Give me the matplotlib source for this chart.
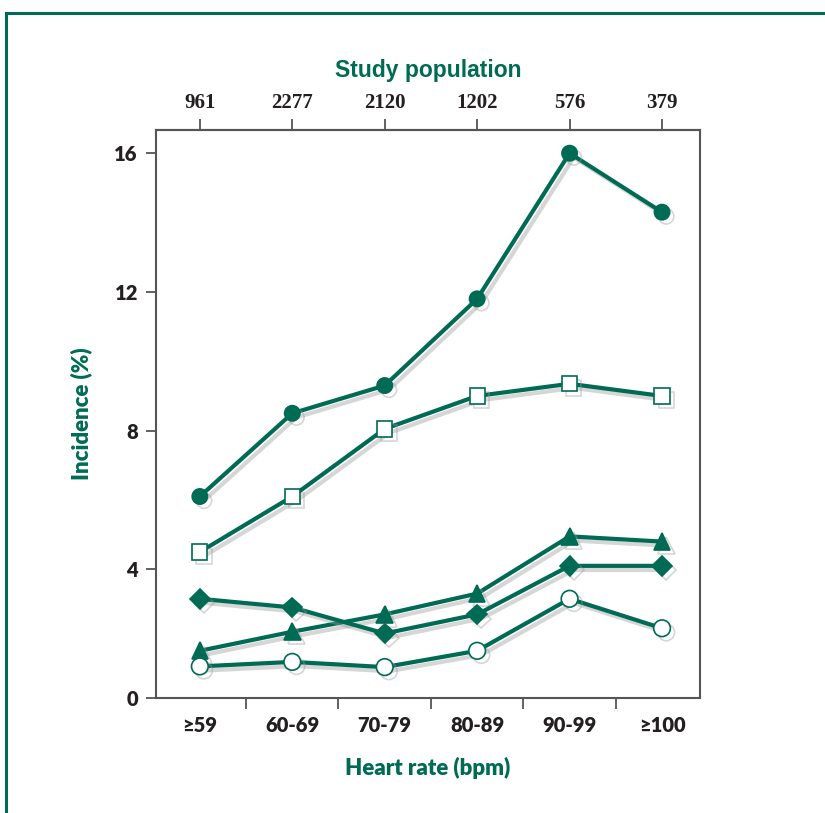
import numpy as np
import matplotlib.pyplot as plt
import matplotlib.patheffects as pe
from matplotlib.lines import Line2D

# heart-rate categories and study population per category
categories = ["\u226559", "60-69", "70-79", "80-89", "90-99", "\u2265100"]
population = ["961", "2277", "2120", "1202", "576", "379"]

# incidence (%)
filled_circle = [6.1, 8.5, 9.3, 11.8, 16.0, 14.3]
open_square = [4.5, 6.1, 8.05, 9.0, 9.35, 9.0]
filled_triangle = [1.65, 2.2, 2.7, 3.3, 4.95, 4.8]
filled_diamond = [3.15, 2.9, 2.15, 2.7, 4.1, 4.1]
open_circle = [1.2, 1.33, 1.18, 1.65, 3.15, 2.3]

green = "#006b54"
dark = "#231f20"

fig = plt.figure(figsize=(8.25, 8.13), dpi=100)
ax = fig.add_axes([0.189, 0.1415, 0.6594, 0.6986])

x = np.arange(len(categories))
shadow = [pe.SimpleLineShadow(offset=(3, -3), shadow_color="#999999", alpha=0.4), pe.Normal()]

series = [
    (filled_circle, "o", green, 11),
    (open_square, "s", "white", 11),
    (filled_triangle, "^", green, 12),
    (filled_diamond, "D", green, 10),
    (open_circle, "o", "white", 12),
]
for vals, mk, face, ms in series:
    ax.plot(x, vals, color=green, lw=3, marker=mk, markersize=ms,
            markerfacecolor=face, markeredgecolor=green, markeredgewidth=1.2,
            path_effects=shadow, zorder=3)

ymin = 0.29
ax.set_ylim(ymin, 16.67)
ax.set_xlim(-0.475, 5.41)

# y axis
ax.set_yticks([ymin, 4, 8, 12, 16])
ax.set_yticklabels(["0", "4", "8", "12", "16"])
ax.tick_params(axis="y", direction="out", length=7, width=1.3, color="#555555",
               labelsize=14.5, labelcolor=dark, pad=6)

# bottom axis: labels at centres, tick marks at boundaries
ax.set_xticks(x)
ax.set_xticklabels(categories)
ax.set_xticks(x[:-1] + 0.5, minor=True)
ax.tick_params(axis="x", which="major", length=0, labelsize=14.5, labelcolor=dark, pad=13)
ax.tick_params(axis="x", which="minor", direction="out", length=8, width=1.3, color="#555555")

for lbl in ax.get_xticklabels() + ax.get_yticklabels():
    lbl.set_fontfamily("Lato")
    lbl.set_fontweight("heavy")

# top axis with study population
top = ax.secondary_xaxis("top")
top.set_xticks(x)
top.set_xticklabels(population)
top.tick_params(direction="out", length=8, width=1.3, color="#555555",
                labelsize=15, labelcolor=dark, pad=4)
for lbl in top.get_xticklabels():
    lbl.set_fontfamily("Liberation Serif")
    lbl.set_fontweight("bold")
top.spines["top"].set_color("#555555")
top.spines["top"].set_linewidth(1.5)

for s in ax.spines.values():
    s.set_color("#555555")
    s.set_linewidth(1.5)

ax.set_xlabel("Heart rate (bpm)", fontsize=16, color=green, fontweight="heavy",
              family="Lato", labelpad=16)
ax.set_ylabel("Incidence (%)", fontsize=16, color=green, fontweight="heavy",
              family="Lato", labelpad=16)
top.set_xlabel("Study population", fontsize=16.5, color=green, fontweight="bold",
               family=["Liberation Sans Narrow", "Liberation Sans"], labelpad=12)

# green frame on top and left edges
fig.add_artist(Line2D([6 / 825, 1], [1 - 13 / 813, 1 - 13 / 813], color=green, lw=2.2,
                      transform=fig.transFigure))
fig.add_artist(Line2D([6 / 825, 6 / 825], [0, 1 - 13 / 813], color=green, lw=2.2,
                      transform=fig.transFigure))

fig.savefig("out.png", dpi=100)
